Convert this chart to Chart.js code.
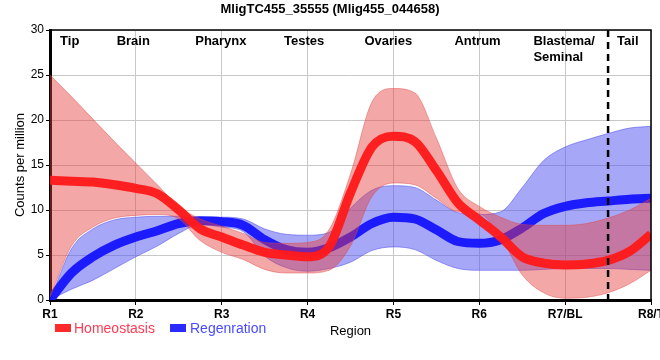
<!DOCTYPE html>
<html>
<head>
<meta charset="utf-8">
<script src="https://cdn.jsdelivr.net/npm/chart.js@4.4.1/dist/chart.umd.min.js"></script>
<style>
  html, body { margin: 0; padding: 0; background: #fff; overflow: hidden; }
</style>
</head>
<body>
<canvas id="chart" width="660" height="360"></canvas>
<script>
// region positions along the worm (1 = R1 ... 8 = R8/T)
const xs = [1, 1.25, 1.5, 1.75, 2, 2.25, 2.5, 2.75, 3, 3.25, 3.5, 3.75, 4, 4.25, 4.5, 4.75,
            5, 5.25, 5.5, 5.75, 6, 6.25, 6.5, 6.75, 7, 7.25, 7.5, 7.75, 8];
const xLabels = ['R1', 'R2', 'R3', 'R4', 'R5', 'R6', 'R7/BL', 'R8/T'];
const yTicks = [0, 5, 10, 15, 20, 25, 30];
const tissues = ['Tip', 'Brain', 'Pharynx', 'Testes', 'Ovaries', 'Antrum', 'Blastema/\nSeminal', 'Tail'];
const tissuePos = [1.23, 1.97, 2.99, 3.96, 4.94, 5.98, 6.63, 7.73];

const homeoMean = [13.3, 13.2, 13.1, 12.8, 12.4, 11.8, 10.0, 7.9, 7.0, 6.1, 5.3, 5.0, 4.8, 5.9, 11.9, 17.0,
                   18.2, 17.6, 14.4, 10.8, 8.9, 7.0, 4.8, 4.1, 3.9, 4.0, 4.4, 5.4, 7.3];
const homeoUpper = [25.0, 22.6, 20.1, 17.6, 15.2, 12.8, 10.4, 9.0, 8.2, 7.4, 6.4, 6.3, 6.4, 7.8, 14.0, 22.0,
                    23.5, 23.0, 18.0, 12.4, 10.4, 9.2, 8.4, 8.3, 8.3, 8.5, 9.1, 10.0, 11.3];
const homeoLower = [0.3, 6.0, 8.1, 9.1, 9.4, 9.5, 9.0, 6.6, 5.3, 4.5, 3.4, 3.0, 3.0, 3.3, 6.0, 11.5,
                    13.0, 12.8, 11.3, 9.8, 9.6, 7.0, 2.8, 0.8, 0.2, 0.3, 0.8, 1.8, 3.3];

const regenMean = [0, 3.0, 4.8, 6.1, 7.0, 7.7, 8.5, 8.8, 8.7, 8.3, 6.7, 5.6, 5.3, 5.8, 7.0, 8.5,
                   9.2, 9.0, 7.8, 6.5, 6.3, 6.7, 8.0, 9.6, 10.4, 10.8, 11.0, 11.2, 11.3];
const regenUpper = [0, 5.7, 7.9, 8.9, 9.2, 9.3, 9.3, 9.2, 9.2, 9.0, 7.9, 7.3, 7.2, 7.5, 10.2, 12.2,
                    12.7, 12.5, 11.1, 9.7, 9.5, 9.8, 12.5, 15.5, 17.0, 17.8, 18.5, 19.1, 19.3];
const regenLower = [0, 1.2, 2.2, 3.5, 4.8, 6.0, 7.4, 8.4, 8.1, 7.6, 4.9, 3.6, 3.2, 3.5, 4.2, 5.5,
                    5.9, 5.6, 4.4, 3.5, 3.3, 3.3, 3.3, 3.4, 3.5, 3.5, 3.5, 3.4, 3.3];

const FONT = '"Liberation Sans", Arial, sans-serif';

const pts = (arr) => arr.map((v, i) => ({ x: xs[i], y: v }));

const lineSet = (label, data, color) => ({
    label: label,
    data: pts(data),
    borderColor: color,
    borderWidth: 9,
    pointRadius: 0,
    fill: false,
    cubicInterpolationMode: 'monotone'
});

const bandSet = (data, fill, bg, edge) => ({
    label: '',
    data: pts(data),
    borderColor: edge,
    borderWidth: 1,
    backgroundColor: bg,
    pointRadius: 0,
    fill: fill,
    cubicInterpolationMode: 'monotone'
});

// annotations, frame, legend and titles
const decorations = {
    id: 'decorations',
    afterDatasetsDraw(chart) {
        const { ctx, chartArea: a, scales: { x } } = chart;
        ctx.save();
        // frame top/right
        ctx.strokeStyle = '#000';
        ctx.lineWidth = 1.5;
        ctx.beginPath();
        ctx.moveTo(a.left, a.top);
        ctx.lineTo(a.right, a.top);
        ctx.lineTo(a.right, a.bottom);
        ctx.stroke();

        // dashed separator before tail
        const dx = x.getPixelForValue(7.5);
        ctx.setLineDash([7, 5]);
        ctx.lineWidth = 2.5;
        ctx.beginPath();
        ctx.moveTo(dx, a.top);
        ctx.lineTo(dx, a.bottom + 4);
        ctx.stroke();
        ctx.setLineDash([]);

        // tissue names
        ctx.fillStyle = '#000';
        ctx.font = 'bold 13px ' + FONT;
        ctx.textBaseline = 'middle';
        tissues.forEach((t, i) => {
            const lines = t.split('\n');
            const px = x.getPixelForValue(tissuePos[i]);
            ctx.textAlign = lines.length > 1 ? 'left' : 'center';
            lines.forEach((ln, j) => ctx.fillText(ln, px, a.top + 11 + j * 16));
        });
        ctx.restore();
    },
    afterDraw(chart) {
        const { ctx, chartArea: a } = chart;
        ctx.save();
        ctx.fillStyle = '#000';
        ctx.textBaseline = 'middle';
        ctx.textAlign = 'center';
        ctx.font = 'bold 13px ' + FONT;
        ctx.fillText('MligTC455_35555 (Mlig455_044658)', 330, 9);

        ctx.font = '13px ' + FONT;
        ctx.fillText('Region', (a.left + a.right) / 2, 331);

        ctx.translate(20, (a.top + a.bottom) / 2);
        ctx.rotate(-Math.PI / 2);
        ctx.fillText('Counts per million', 0, 0);
        ctx.restore();

        // legend
        ctx.save();
        ctx.font = '14px ' + FONT;
        ctx.textBaseline = 'middle';
        ctx.textAlign = 'left';
        ctx.fillStyle = '#ff2b2b';
        ctx.fillRect(55, 324, 16, 8);
        ctx.fillStyle = '#ff3b55';
        ctx.fillText('Homeostasis', 74, 329);
        ctx.fillStyle = '#2b2bff';
        ctx.fillRect(170, 324, 16, 8);
        ctx.fillStyle = '#4a4aff';
        ctx.fillText('Regenration', 190, 329);
        ctx.restore();
    }
};

new Chart(document.getElementById('chart'), {
    type: 'line',
    data: {
        datasets: [
            lineSet('Homeostasis', homeoMean, 'rgba(255, 25, 25, 0.95)'),
            bandSet(homeoUpper, '+1', 'rgba(230, 60, 60, 0.45)', 'rgba(225, 70, 70, 0.45)'),
            bandSet(homeoLower, false, 'rgba(230, 60, 60, 0.45)', 'rgba(225, 70, 70, 0.45)'),
            lineSet('Regenration', regenMean, 'rgba(20, 20, 255, 0.95)'),
            bandSet(regenUpper, '+1', 'rgba(80, 80, 240, 0.5)', 'rgba(70, 70, 235, 0.5)'),
            bandSet(regenLower, false, 'rgba(80, 80, 240, 0.5)', 'rgba(70, 70, 235, 0.5)')
        ]
    },
    options: {
        responsive: false,
        animation: false,
        layout: { padding: { left: 0, top: 30, right: 9, bottom: 0 } },
        plugins: {
            legend: { display: false },
            title: { display: false },
            tooltip: { enabled: false }
        },
        scales: {
            x: {
                type: 'linear',
                min: 1,
                max: 8,
                afterBuildTicks: (s) => { s.ticks = xLabels.map((l, i) => ({ value: i + 1 })); },
                afterFit: (s) => { s.height = 60; s.paddingLeft = 0; s.paddingRight = 0; },
                ticks: {
                    callback: (v) => xLabels[v - 1],
                    color: '#000',
                    font: { family: FONT, size: 12, weight: 'bold' },
                    padding: 2,
                    maxRotation: 0
                },
                grid: { color: '#c8c8c8', lineWidth: 1, tickLength: 5, tickColor: '#000' },
                border: { color: '#000', width: 3 }
            },
            y: {
                min: 0,
                max: 30,
                afterBuildTicks: (s) => { s.ticks = yTicks.map(v => ({ value: v })); },
                afterFit: (s) => { s.width = 50; },
                ticks: {
                    color: '#000',
                    font: { family: FONT, size: 12 },
                    padding: 2
                },
                grid: { color: '#c8c8c8', lineWidth: 1, tickLength: 4, tickColor: '#000' },
                border: { color: '#000', width: 3 }
            }
        }
    },
    plugins: [decorations]
});
</script>
</body>
</html>
